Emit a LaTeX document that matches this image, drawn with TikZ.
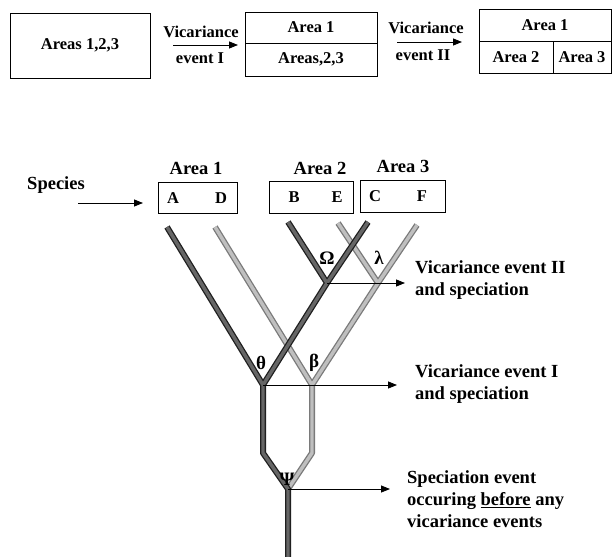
\documentclass[tikz,border=0pt]{standalone}
\usepackage{fontspec}
\setmainfont{Liberation Serif}
\usetikzlibrary{arrows.meta}
\begin{document}
\begin{tikzpicture}[x=1pt,y=-1pt,
  box/.style={draw, line width=0.8pt, inner sep=0pt},
  toplbl/.style={font=\bfseries\fontsize{16.5}{19}\selectfont, inner sep=0pt},
  lbl/.style={font=\bfseries\fontsize{18.5}{22}\selectfont, inner sep=0pt, align=left},
  letter/.style={font=\bfseries\fontsize{16.5}{19}\selectfont, inner sep=0pt},
  greek/.style={font=\bfseries\fontsize{19}{22}\selectfont, inner sep=0pt},
  pointer/.style={line width=0.8pt, -{Triangle[length=9pt,width=7pt]}},
  darkbranch/.style={line width=3.4pt, draw=black!60, line join=round,
    preaction={draw=black!88, line width=6pt, line join=round}},
  lightbranch/.style={line width=3.4pt, draw=black!25, line join=round,
    preaction={draw=black!52, line width=6pt, line join=round}}
]
\useasboundingbox[fill=white] (0,0) rectangle (612,556);

% ---- area history along the top ----
\node[box, toplbl, minimum width=140pt, minimum height=65pt] (b1) at (80,45.5) {Areas 1,2,3};

\node[box, toplbl, minimum width=132pt, minimum height=31pt] (b2a) at (311,27.5) {Area 1};
\node[box, toplbl, minimum width=132pt, minimum height=33pt] (b2b) at (311,59.5) {Areas,2,3};

\node[box, toplbl, minimum width=132pt, minimum height=32pt] (b3a) at (545,25) {Area 1};
\node[box, toplbl, minimum width=74pt, minimum height=32pt] (b3b) at (516,57) {Area 2};
\node[box, toplbl, minimum width=58pt, minimum height=32pt] (b3c) at (582,57) {Area 3};

\node[toplbl] (v1) at (201,32) {Vicariance};
\node[toplbl] (e1) at (200,58) {event I};
\coordinate (a1s) at (173,45);
\coordinate (a1e) at (238,45);
\draw[pointer] (a1s) -- (a1e);

\node[toplbl] (v2) at (426,28) {Vicariance};
\node[toplbl] (e2) at (423,55) {event II};
\coordinate (a2s) at (397,42);
\coordinate (a2e) at (462,42);
\draw[pointer] (a2s) -- (a2e);

% ---- species and their areas ----
\node[lbl] (sp) at (56,185) {Species};
\coordinate (sps) at (78,203);
\coordinate (spe) at (143,203);
\draw[pointer] (sps) -- (spe);

\node[lbl] (t1) at (196,168) {Area 1};
\node[lbl] (t2) at (320,168) {Area 2};
\node[lbl] (t3) at (403,166) {Area 3};

\node[box, minimum width=79pt, minimum height=31pt] (ar1) at (197.5,197.5) {};
\node[box, minimum width=84pt, minimum height=32pt] (ar2) at (311,197) {};
\node[box, minimum width=85pt, minimum height=32pt] (ar3) at (402.5,196) {};

\node[letter] (sA) at (173,198) {A};
\node[letter] (sD) at (221,198) {D};
\node[letter] (sB) at (294,197) {B};
\node[letter] (sE) at (337,197) {E};
\node[letter] (sC) at (375,196) {C};
\node[letter] (sF) at (422,196) {F};

% ---- the tree ----
\coordinate (tA) at (167,227);
\coordinate (tD) at (215,227);
\coordinate (tB) at (288,222);
\coordinate (tE) at (338,223);
\coordinate (tC) at (368,222);
\coordinate (tF) at (417,225);
\coordinate (om) at (327,283);
\coordinate (la) at (378,283);
\coordinate (th) at (263,385);
\coordinate (be) at (312,385);
\coordinate (sd) at (263,453);
\coordinate (sl) at (312,453);
\coordinate (ps) at (288,489);
\coordinate (root) at (288,560);

\draw[lightbranch] (tD) -- (be) -- (sl) -- (ps)
                   (tF) -- (la) -- (be)
                   (tE) -- (la);
\draw[darkbranch] (tA) -- (th) -- (sd) -- (ps) -- (root)
                  (tC) -- (om) -- (th)
                  (tB) -- (om);

\node[greek] (gOm) at (327,258) {Ω};
\node[greek] (gLa) at (379,258) {λ};
\node[greek] (gTh) at (261,363) {θ};
\node[greek] (gBe) at (314,363) {β};
\node[greek] (gPs) at (287,479) {Ψ};

% ---- event labels ----
\node[lbl, anchor=west] (l2) at (415,280.5) {Vicariance event II\\and speciation};
\node[lbl, anchor=west] (l1) at (415,384) {Vicariance event I\\and speciation};
\node[lbl, anchor=west] (l0) at (407,499.5) {Speciation event\\occuring \underline{before} any\\vicariance events};

\draw[pointer, shorten >=10pt] (om) -- (om -| l2.west);
\draw[pointer, shorten >=18pt] (th) -- (th -| l1.west);
\draw[pointer, shorten >=17pt] (ps) -- (ps -| l0.west);
\end{tikzpicture}
\end{document}
